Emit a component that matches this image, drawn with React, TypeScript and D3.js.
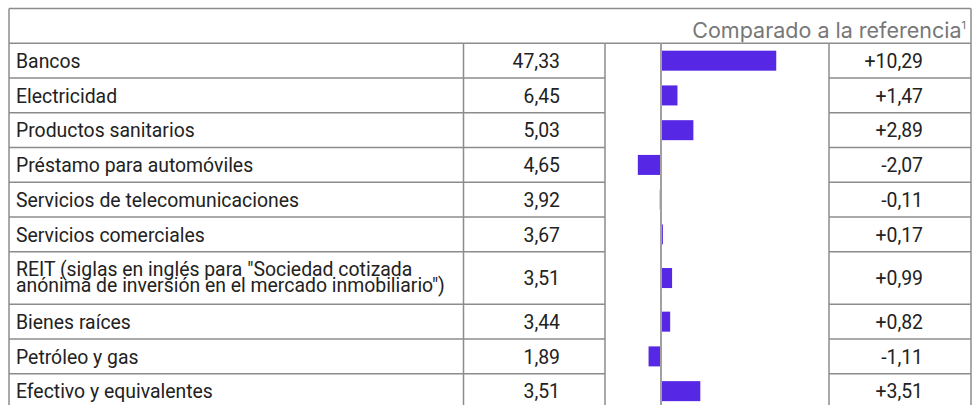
import React from "react";
import * as d3 from "d3";

const categories: string[] = [
  "Bancos",
  "Electricidad",
  "Productos sanitarios",
  "Préstamo para automóviles",
  "Servicios de telecomunicaciones",
  "Servicios comerciales",
  "REIT (siglas en inglés para \"Sociedad cotizada\nanónima de inversión en el mercado inmobiliario\")",
  "Bienes raíces",
  "Petróleo y gas",
  "Efectivo y equivalentes",
];
const weights: number[] = [47.33, 6.45, 5.03, 4.65, 3.92, 3.67, 3.51, 3.44, 1.89, 3.51];
const diffs: number[] = [10.29, 1.47, 2.89, -2.07, -0.11, 0.17, 0.99, 0.82, -1.11, 3.51];
const headerText = "Comparado a la referencia";
const headerSup = "1";
const rowHeights: number[] = [1, 1, 1, 1, 1, 1, 1.51, 1, 1, 1];

const W = 976;
const H = 405;
const left = 9;
const right = 971;
const top = 8.5;
const headerBottom = 43.3;
const unitRow = 34.75;
const colValue = 463.5;
const colBar = 605;
const colChange = 829;
const lineColor = "#8c8c8c";
const barColor = "#5627E5";
const fontBody = "Roboto, 'Noto Sans', sans-serif";
const bodySize = 19.4;

const fmt = (v: number) => v.toFixed(2).replace(".", ",");
const fmtSigned = (v: number) => (v >= 0 ? "+" : "-") + Math.abs(v).toFixed(2).replace(".", ",");

export default function App() {
  const x = d3.scaleLinear().domain([-5, 15]).range([colBar, colChange]);
  const rowTops: number[] = [];
  let acc = headerBottom;
  rowHeights.forEach((h) => {
    rowTops.push(acc);
    acc += h * unitRow;
  });
  const bottom = acc;
  const barH = 20;
  const lineGap = 15.7;

  return (
    <svg
      width={W}
      height={H}
      style={{ position: "absolute", left: 0, top: 0, background: "#fff" }}
    >
      <line x1={left} x2={right} y1={top} y2={top} stroke={lineColor} strokeWidth={1.5} />
      <line x1={left} x2={right} y1={headerBottom} y2={headerBottom} stroke={lineColor} strokeWidth={1.5} />
      <line x1={left} x2={left} y1={top} y2={bottom} stroke={lineColor} strokeWidth={1.5} />
      <line x1={right} x2={right} y1={top} y2={bottom} stroke={lineColor} strokeWidth={1.5} />
      <line x1={colValue} x2={colValue} y1={headerBottom} y2={bottom} stroke={lineColor} strokeWidth={1.5} />
      <line x1={colBar} x2={colBar} y1={headerBottom} y2={bottom} stroke={lineColor} strokeWidth={1.5} />
      <line x1={colChange} x2={colChange} y1={headerBottom} y2={bottom} stroke={lineColor} strokeWidth={1.5} />

      <text
        x={966}
        y={38}
        textAnchor="end"
        fill="#777"
        fontFamily="Inter, 'Open Sans', sans-serif"
        fontSize={21.5}
      >
        {headerText}
        <tspan fontSize={11} dy={-9}>{headerSup}</tspan>
      </text>

      {categories.map((c, i) => {
        const y0 = rowTops[i];
        const h = rowHeights[i] * unitRow;
        const cy = y0 + h / 2;
        const lines = c.split("\n");
        const v = diffs[i];
        const firstY = cy - ((lines.length - 1) * lineGap) / 2 - (lines.length > 1 ? 1.5 : 0);
        return (
          <g key={i}>
            {i > 0 && (
              <>
                <line x1={left} x2={colBar} y1={y0} y2={y0} stroke={lineColor} strokeWidth={1.5} />
                <line x1={colChange} x2={right} y1={y0} y2={y0} stroke={lineColor} strokeWidth={1.5} />
              </>
            )}
            <text fill="#222" fontFamily={fontBody} fontSize={bodySize}>
              {lines.map((l, j) => (
                <tspan key={j} x={16} y={firstY + j * lineGap} dy="0.37em">
                  {l}
                </tspan>
              ))}
            </text>
            <text
              x={560}
              y={cy}
              dy="0.37em"
              textAnchor="end"
              fill="#222"
              fontFamily={fontBody}
              fontSize={bodySize}
              style={{ fontVariantNumeric: "tabular-nums" }}
            >
              {fmt(weights[i])}
            </text>
            <rect
              x={Math.min(x(0), x(v))}
              y={cy - barH / 2}
              width={Math.abs(x(v) - x(0))}
              height={barH}
              fill={barColor}
            />
            <text
              x={923}
              y={cy}
              dy="0.37em"
              textAnchor="end"
              fill="#222"
              fontFamily={fontBody}
              fontSize={bodySize}
              style={{ fontVariantNumeric: "tabular-nums" }}
            >
              {fmtSigned(v)}
            </text>
          </g>
        );
      })}
      <line x1={x(0)} x2={x(0)} y1={headerBottom} y2={bottom} stroke="#a0a0a0" strokeWidth={2} />
    </svg>
  );
}
